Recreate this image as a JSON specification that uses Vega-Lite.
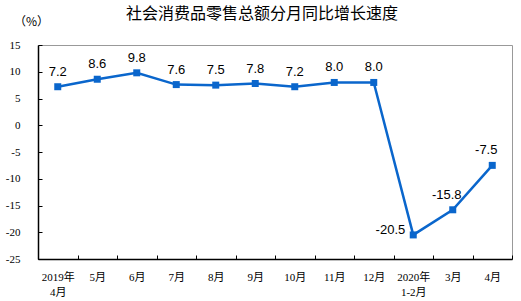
{
  "$schema": "https://vega.github.io/schema/vega-lite/v6.json",
  "width": 474,
  "height": 214,
  "autosize": {"type": "none"},
  "padding": {"left": 38, "top": 45, "right": 9, "bottom": 42},
  "background": "white",
  "title": {
    "text": "社会消费品零售总额分月同比增长速度",
    "font": "Noto Sans CJK SC",
    "fontSize": 16,
    "fontWeight": "normal",
    "color": "#000000",
    "anchor": "middle",
    "dx": -13,
    "offset": 0,
    "dy": 7
  },
  "config": {
    "view": {"stroke": "#999999", "strokeWidth": 1},
    "axis": {
      "labelFont": "'Liberation Serif', 'Noto Sans CJK SC'",
      "labelFontSize": 11,
      "labelColor": "#000000",
      "domainColor": "#000000",
      "domainWidth": 1.5,
      "tickColor": "#000000",
      "grid": false
    }
  },
  "data": {
    "values": [
      {"m": "2019年 4月", "v": 7.2, "t": "7.2"},
      {"m": "5月", "v": 8.6, "t": "8.6"},
      {"m": "6月", "v": 9.8, "t": "9.8"},
      {"m": "7月", "v": 7.6, "t": "7.6"},
      {"m": "8月", "v": 7.5, "t": "7.5"},
      {"m": "9月", "v": 7.8, "t": "7.8"},
      {"m": "10月", "v": 7.2, "t": "7.2"},
      {"m": "11月", "v": 8.0, "t": "8.0"},
      {"m": "12月", "v": 8.0, "t": "8.0"},
      {"m": "2020年 1-2月", "v": -20.5, "t": "-20.5"},
      {"m": "3月", "v": -15.8, "t": "-15.8"},
      {"m": "4月", "v": -7.5, "t": "-7.5"}
    ]
  },
  "encoding": {
    "x": {
      "field": "m",
      "type": "nominal",
      "sort": null,
      "scale": {"paddingInner": 0, "paddingOuter": 0},
      "axis": {
        "title": null,
        "labelAngle": 0,
        "labelExpr": "datum.value ? split(datum.value, ' ') : ''",
        "labelLineHeight": 15,
        "tickBand": "extent",
        "tickSize": -4,
        "labelPadding": 16
      }
    },
    "y": {
      "field": "v",
      "type": "quantitative",
      "scale": {"domain": [-25, 15], "nice": false, "zero": false},
      "axis": {
        "values": [-25, -20, -15, -10, -5, 0, 5, 10, 15],
        "labelExpr": "'' + datum.value",
        "title": "（%）",
        "titleFont": "Noto Sans CJK SC",
        "titleFontSize": 12,
        "titleFontWeight": "normal",
        "titleAngle": 0,
        "titleX": -7,
        "titleY": -24,
        "titleAlign": "center",
        "titleBaseline": "middle",
        "tickSize": -4,
        "labelPadding": 22
      }
    }
  },
  "layer": [
    {"mark": {"type": "line", "color": "#0A66CC", "strokeWidth": 2.5}},
    {"mark": {"type": "point", "shape": "square", "filled": true, "size": 49, "color": "#0A66CC", "opacity": 1}},
    {
      "transform": [{"filter": "datum.v > 0"}],
      "mark": {"type": "text", "font": "Liberation Sans", "fontSize": 13, "color": "#000000", "baseline": "middle", "dy": -15},
      "encoding": {"text": {"field": "t", "type": "nominal"}}
    },
    {
      "transform": [{"filter": "datum.v < 0 && datum.v > -20"}],
      "mark": {"type": "text", "font": "Liberation Sans", "fontSize": 13, "color": "#000000", "baseline": "middle", "dx": -6, "dy": -15},
      "encoding": {"text": {"field": "t", "type": "nominal"}}
    },
    {
      "transform": [{"filter": "datum.v <= -20"}],
      "mark": {"type": "text", "font": "Liberation Sans", "fontSize": 13, "color": "#000000", "baseline": "middle", "align": "right", "dx": -8, "dy": -5},
      "encoding": {"text": {"field": "t", "type": "nominal"}}
    }
  ]
}
